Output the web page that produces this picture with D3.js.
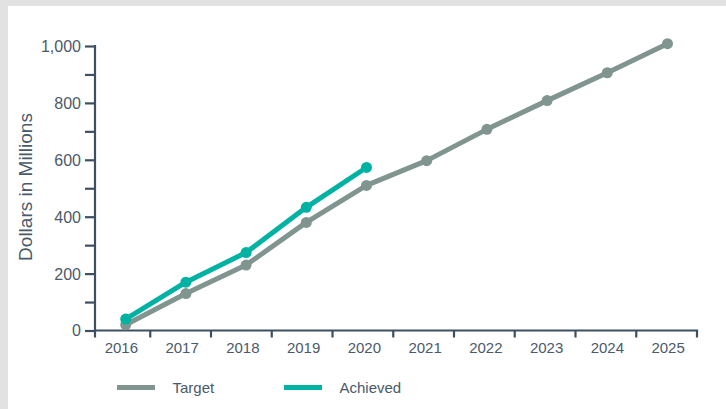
<!DOCTYPE html>
<html>
<head>
<meta charset="utf-8">
<script src="https://cdn.jsdelivr.net/npm/d3@7"></script>
<style>
  html, body { margin: 0; padding: 0; background: #e2e2e2; }
  svg { display: block; }
  text { font-family: "Liberation Sans", Arial, sans-serif; }
</style>
</head>
<body>
<svg id="chart" width="726" height="409"></svg>
<script>
const years = [2016, 2017, 2018, 2019, 2020, 2021, 2022, 2023, 2024, 2025];
const targetValues = [20, 130, 230, 380, 510, 597, 707, 808, 906, 1008];
const achievedYears = [2016, 2017, 2018, 2019, 2020];
const achievedValues = [40, 170, 274, 433, 573];
const yTicks = [0, 100, 200, 300, 400, 500, 600, 700, 800, 900, 1000];
const yLabelTicks = [0, 200, 400, 600, 800, 1000];
const seriesNames = ["Target", "Achieved"];

const colors = { target: "#80958f", achieved: "#00b2a3", axis: "#3e4f61", text: "#4a5a6b" };

const svg = d3.select("#chart");
svg.append("rect").attr("x", 8).attr("y", 6).attr("width", 718).attr("height", 403).attr("fill", "#ffffff");

const y = d3.scaleLinear().domain([0, 1000]).range([330.5, 46]);
const xBand = d3.scaleBand().domain(years).range([89.5, 697]).padding(0);
const xPt = d3.scaleLinear().domain([2016, 2025]).range([125.7, 667.5]);
const axisX = 95;

// Y axis
const yAxis = d3.axisLeft(y).tickValues(yTicks).tickSize(10).tickPadding(4)
  .tickFormat(d => yLabelTicks.includes(d) ? d3.format(",")(d) : "");
const gy = svg.append("g").attr("transform", `translate(${axisX},0)`).call(yAxis);
gy.select(".domain").remove();
gy.selectAll(".tick line").attr("stroke", colors.axis).attr("stroke-width", 2.2);
gy.selectAll(".tick text").attr("fill", colors.text).attr("font-size", 16).attr("dy", "0.34em");
svg.append("line").attr("x1", axisX).attr("x2", axisX).attr("y1", y(1000) - 1.1).attr("y2", y(0) + 7)
  .attr("stroke", colors.axis).attr("stroke-width", 2.2);

// X axis
const xAxis = d3.axisBottom(xBand).tickSize(0).tickPadding(11);
const gx = svg.append("g").attr("transform", `translate(0,${y(0)})`).call(xAxis);
gx.select(".domain").remove();
gx.selectAll(".tick text").attr("fill", colors.text).attr("font-size", 15).attr("dx", 1.5).attr("dy", "0.75em");
svg.append("line").attr("x1", axisX).attr("x2", xBand.range()[1] + 1.1).attr("y1", y(0)).attr("y2", y(0))
  .attr("stroke", colors.axis).attr("stroke-width", 2.2);
svg.append("g").selectAll("line").data(years).join("line")
  .attr("x1", d => xBand(d) + xBand.bandwidth()).attr("x2", d => xBand(d) + xBand.bandwidth())
  .attr("y1", y(0)).attr("y2", y(0) + 7)
  .attr("stroke", colors.axis).attr("stroke-width", 2.2);

// Y title
svg.append("text").attr("transform", `translate(32,187) rotate(-90)`)
  .attr("text-anchor", "middle").attr("fill", colors.text).attr("font-size", 19)
  .text("Dollars in Millions");

// Series
const line = d3.line().x(d => xPt(d[0])).y(d => y(d[1]));
function drawSeries(xs, vals, color) {
  const data = xs.map((d, i) => [d, vals[i]]);
  svg.append("path").datum(data).attr("d", line).attr("fill", "none")
    .attr("stroke", color).attr("stroke-width", 5).attr("stroke-linejoin", "round");
  svg.append("g").selectAll("circle").data(data).join("circle")
    .attr("cx", d => xPt(d[0])).attr("cy", d => y(d[1])).attr("r", 5.5).attr("fill", color);
}
drawSeries(years, targetValues, colors.target);
drawSeries(achievedYears, achievedValues, colors.achieved);

// Legend
const legend = [
  { name: seriesNames[0], color: colors.target, x: 117 },
  { name: seriesNames[1], color: colors.achieved, x: 284 }
];
const lg = svg.append("g").selectAll("g").data(legend).join("g")
  .attr("transform", d => `translate(${d.x},387.5)`);
lg.append("line").attr("x1", 0).attr("x2", 38).attr("stroke", d => d.color).attr("stroke-width", 5);
lg.append("text").attr("x", 55.5).attr("y", 0).attr("dy", "0.35em")
  .attr("fill", colors.text).attr("font-size", 15).text(d => d.name);
</script>
</body>
</html>
